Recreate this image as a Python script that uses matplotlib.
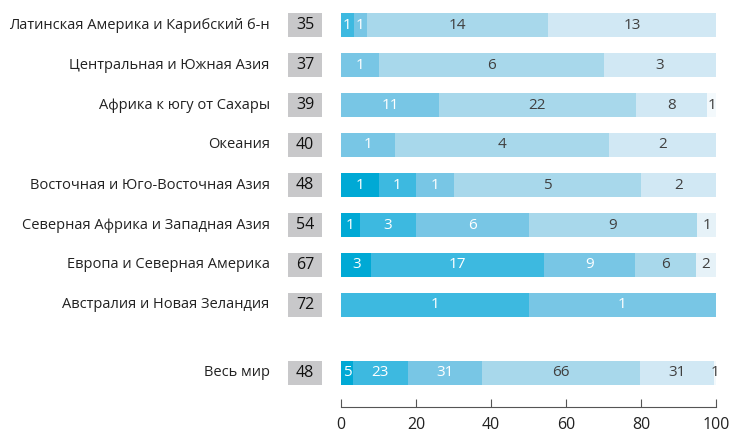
import matplotlib.pyplot as plt
import numpy as np

plt.rcParams['font.family'] = ['Open Sans', 'DejaVu Sans']

# Data (top to bottom)
regions = ["Латинская Америка и Карибский б-н", "Центральная и Южная Азия",
           "Африка к югу от Сахары", "Океания", "Восточная и Юго-Восточная Азия",
           "Северная Африка и Западная Азия", "Европа и Северная Америка",
           "Австралия и Новая Зеландия", "Весь мир"]
box_values = [35, 37, 39, 40, 48, 54, 67, 72, 48]

s1 = [0, 0, 0, 0, 1, 1, 3, 0, 5]
s2 = [1, 0, 0, 0, 1, 3, 17, 1, 23]
s3 = [1, 1, 11, 1, 1, 6, 9, 1, 31]
s4 = [14, 6, 22, 4, 5, 9, 6, 0, 66]
s5 = [13, 3, 8, 2, 2, 0, 0, 0, 31]
s6 = [0, 0, 0, 0, 0, 1, 2, 0, 0]
s7 = [0, 0, 1, 0, 0, 0, 0, 0, 1]

series = [s1, s2, s3, s4, s5, s6, s7]
colors = ['#00a9d5', '#3db9e0', '#78c6e5', '#a8d8eb', '#d1e8f4', '#e6f2f8', '#f3f9fc']
text_colors = ['white', 'white', 'white', '#404040', '#404040', '#404040', '#404040']

ypos = [0, 1, 2, 3, 4, 5, 6, 7, 8.7]

fig = plt.figure(figsize=(7.29, 4.32), dpi=100)
ax = fig.add_axes([341 / 729, 1 - 407 / 432, 375 / 729, 394 / 432])

counts = np.array(series, dtype=float)
totals = counts.sum(axis=0)
pct = counts / totals * 100
left = np.zeros(len(regions))
bar_h = 0.58
for i in range(len(series)):
    ax.barh(ypos, pct[i], left=left, height=bar_h, color=colors[i], linewidth=0)
    for j, y in enumerate(ypos):
        if counts[i][j] > 0:
            ax.text(left[j] + pct[i][j] / 2, y, str(int(counts[i][j])),
                    ha='center', va='center', fontsize=11, color=text_colors[i])
    left += pct[i]

for j, y in enumerate(ypos):
    ax.add_patch(plt.Rectangle((-14.1, y - bar_h / 2), 9.1, bar_h, color='#c8c8ca',
                               clip_on=False, linewidth=0))
    ax.text(-9.55, y, str(box_values[j]), ha='center', va='center', fontsize=11.5,
            color='#111111')
    ax.text(-19.0, y, regions[j], ha='right', va='center', fontsize=10.5,
            color='#222222')

ax.set_xlim(0, 100)
ax.set_ylim(9.55, -0.3)
ax.set_yticks([])
ax.set_xticks([0, 20, 40, 60, 80, 100])
for s in ['top', 'right', 'left']:
    ax.spines[s].set_visible(False)
ax.spines['bottom'].set_color('#555555')
ax.tick_params(axis='x', direction='in', length=6, color='#555555', labelsize=11.5,
               labelcolor='#222222', pad=7)

plt.savefig('out.png', dpi=100)
